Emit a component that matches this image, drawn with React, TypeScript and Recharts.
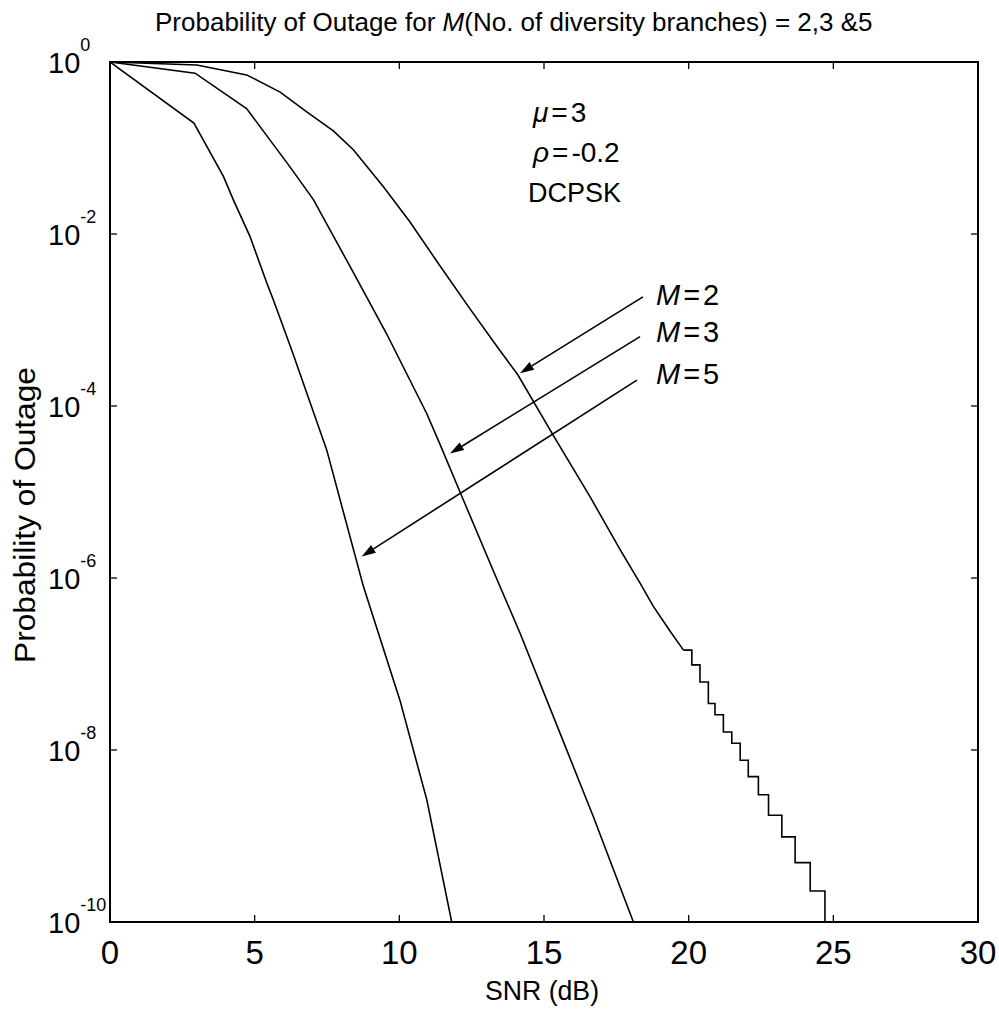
import React from "react";
import { LineChart, Line, XAxis, YAxis, ReferenceArea, ReferenceLine } from "recharts";

// ---- data (SNR in dB, probability of outage) ----
const SNR_M5 = [0, 2.9, 3.92, 4.26, 4.84, 5.42, 5.65, 6.28, 7.49, 8.0, 8.76, 10.02, 10.95, 11.81];
const POUT_M5 = [1, 0.195, 0.0468, 0.0251, 0.00933, 0.00269, 0.0017, 4.47e-4, 3.09e-5, 7.08e-6, 7.94e-7, 3.8e-8, 2.63e-9, 1e-10];

const SNR_M3 = [0, 2.94, 4.72, 6.22, 7.03, 8.3, 9.56, 10.95, 11.41, 12.21, 13.24, 14.17, 15.55, 16.71, 18.09];
const POUT_M3 = [1, 0.741, 0.288, 0.0603, 0.0251, 0.00417, 6.92e-4, 8.13e-5, 3.55e-5, 8.13e-6, 1.23e-6, 2.29e-7, 1.58e-8, 1.66e-9, 1e-10];

const SNR_M2 = [0, 3.0, 4.72, 5.88, 6.8, 7.72, 8.41, 9.45, 10.37, 11.3, 12.4, 13.4, 14.1, 15.3, 16.6, 17.63, 18.32, 18.78, 19.36, 19.82];
const POUT_M2 = [1, 0.923, 0.708, 0.447, 0.263, 0.158, 0.0955, 0.0355, 0.0138, 0.00479, 0.00141, 4.79e-4, 2.29e-4, 4.68e-5, 8.71e-6, 2.14e-6, 8.71e-7, 4.68e-7, 2.4e-7, 1.45e-7];

// staircase tail of the M=2 curve
const SNR_M2_TAIL = [19.82, 20.11, 20.39, 20.68, 20.91, 21.2, 21.49, 21.78, 22.06, 22.41, 22.76, 23.22, 23.68, 24.2, 24.71, 25.4];
const POUT_M2_TAIL = [1.45e-7, 9.77e-8, 6.17e-8, 3.47e-8, 2.57e-8, 1.62e-8, 1.2e-8, 7.59e-9, 4.9e-9, 3.02e-9, 1.74e-9, 9.77e-10, 4.9e-10, 2.29e-10, 1e-10, 1e-10];

const X_TICKS = [0, 5, 10, 15, 20, 25, 30];
const Y_TICKS = [1, 1e-2, 1e-4, 1e-6, 1e-8, 1e-10];
const Y_EXP_LABELS = ["0", "-2", "-4", "-6", "-8", "-10"];

// arrows: from (SNR, P) near the label to the tip on the curve
const ARROW_LABELS = ["2", "3", "5"];
const ARROW_FROM_X = [18.42, 18.32, 18.21];
const ARROW_FROM_Y = [1.86e-3, 6.4e-4, 2.0e-4];
const ARROW_TO_X = [14.17, 11.75, 8.7];
const ARROW_TO_Y = [2.4e-4, 2.8e-5, 1.78e-6];

const toRows = (xs: number[], ys: number[]) => xs.map((x, i) => ({ x, y: ys[i] }));
const m5 = toRows(SNR_M5, POUT_M5);
const m3 = toRows(SNR_M3, POUT_M3);
const m2 = toRows(SNR_M2, POUT_M2);
const m2tail = toRows(SNR_M2_TAIL, POUT_M2_TAIL);

// ---- layout ----
const W = 999;
const H = 1010;
const PL = 110;
const PR = 978;
const PT = 62;
const PB = 922;
const FONT = "'Liberation Sans', Arial, Helvetica, sans-serif";

const XTick = (props: any) => {
  const { x, payload } = props;
  return (
    <g>
      <line x1={x} x2={x} y1={PB} y2={PB - 7} stroke="#000" strokeWidth={1.3} />
      <line x1={x} x2={x} y1={PT} y2={PT + 7} stroke="#000" strokeWidth={1.3} />
      <text x={x} y={PB + 42} textAnchor="middle" fontSize={33} fontFamily={FONT} fill="#000">
        {payload.value}
      </text>
    </g>
  );
};

const YTick = (props: any) => {
  const { y, payload, index } = props;
  const idx = Y_TICKS.indexOf(payload.value);
  const exp = Y_EXP_LABELS[idx >= 0 ? idx : index];
  return (
    <g>
      <line x1={PL} x2={PL + 7} y1={y} y2={y} stroke="#000" strokeWidth={1.3} />
      <line x1={PR} x2={PR - 7} y1={y} y2={y} stroke="#000" strokeWidth={1.3} />
      <text x={48} y={y + 11} fontSize={29} fontFamily={FONT} fill="#000">
        10
        <tspan dy={-22} fontSize={18}>
          {exp}
        </tspan>
      </text>
    </g>
  );
};

const ArrowShape = (p: any) => {
  const { x1, y1, x2, y2 } = p;
  const dx = x2 - x1;
  const dy = y2 - y1;
  const L = Math.hypot(dx, dy) || 1;
  const ux = dx / L;
  const uy = dy / L;
  const hl = 14;
  const hw = 4.5;
  const bx = x2 - ux * hl;
  const by = y2 - uy * hl;
  const pts = `${x2},${y2} ${bx - uy * hw},${by + ux * hw} ${bx + uy * hw},${by - ux * hw}`;
  return (
    <g>
      <line x1={x1} y1={y1} x2={bx} y2={by} stroke="#000" strokeWidth={1.6} />
      <polygon points={pts} fill="#000" />
    </g>
  );
};

const LABEL_BASELINES = [305, 342, 384];

export default function App() {
  return (
    <div style={{ position: "absolute", left: 0, top: 0, width: W, height: H, background: "#fff" }}>
      <LineChart width={W} height={H} margin={{ top: PT, right: W - PR, bottom: H - PB - 60, left: PL - 60 }}>
        <XAxis
          type="number"
          dataKey="x"
          domain={[0, 30]}
          ticks={X_TICKS}
          height={60}
          axisLine={false}
          tickLine={false}
          tick={<XTick />}
          allowDataOverflow
        />
        <YAxis
          type="number"
          scale="log"
          domain={[1e-10, 1]}
          ticks={Y_TICKS}
          width={60}
          axisLine={false}
          tickLine={false}
          tick={<YTick />}
          allowDataOverflow
          interval={0}
        />
        <Line data={m5} dataKey="y" type="linear" stroke="#000" strokeWidth={1.6} dot={false} isAnimationActive={false} />
        <Line data={m3} dataKey="y" type="linear" stroke="#000" strokeWidth={1.6} dot={false} isAnimationActive={false} />
        <Line data={m2} dataKey="y" type="linear" stroke="#000" strokeWidth={1.6} dot={false} isAnimationActive={false} />
        <Line data={m2tail} dataKey="y" type="stepAfter" stroke="#000" strokeWidth={1.6} dot={false} isAnimationActive={false} />
        {ARROW_LABELS.map((lab, i) => (
          <ReferenceLine
            key={lab}
            segment={[
              { x: ARROW_FROM_X[i], y: ARROW_FROM_Y[i] },
              { x: ARROW_TO_X[i], y: ARROW_TO_Y[i] },
            ]}
            shape={ArrowShape}
          />
        ))}
        <ReferenceArea x1={0} x2={30} y1={1e-10} y2={1} fill="none" fillOpacity={0} stroke="#000" strokeWidth={2} />
      </LineChart>
      <svg
        width={W}
        height={H}
        style={{ position: "absolute", left: 0, top: 0, pointerEvents: "none" }}
        fontFamily={FONT}
      >
        <text x={155} y={31} fontSize={26} fill="#000">
          Probability of Outage for <tspan fontStyle="italic">M</tspan>
          {"(No. of diversity branches) = 2,3 &5"}
        </text>
        <text
          transform="translate(35,515) rotate(-90)"
          textAnchor="middle"
          fontSize={30}
          textLength={296}
          lengthAdjust="spacingAndGlyphs"
          fill="#000"
        >
          Probability of Outage
        </text>
        <text x={542} y={1000} textAnchor="middle" fontSize={27} textLength={114} lengthAdjust="spacingAndGlyphs" fill="#000">
          SNR (dB)
        </text>
        <text x={533} y={122} fontSize={28} fill="#000">
          <tspan fontStyle="italic">μ</tspan>
          <tspan dx={3}>=</tspan>
          <tspan dx={3}>3</tspan>
        </text>
        <text x={533} y={162} fontSize={28} fill="#000">
          <tspan fontStyle="italic">ρ</tspan>
          <tspan dx={3}>=</tspan>
          <tspan dx={3}>-0.2</tspan>
        </text>
        <text x={528} y={202} fontSize={27} fill="#000">
          DCPSK
        </text>
        {ARROW_LABELS.map((lab, i) => (
          <text key={lab} x={656} y={LABEL_BASELINES[i]} fontSize={29} fill="#000">
            <tspan fontStyle="italic">M</tspan>
            <tspan dx={3}>=</tspan>
            <tspan dx={3}>{lab}</tspan>
          </text>
        ))}
      </svg>
    </div>
  );
}
